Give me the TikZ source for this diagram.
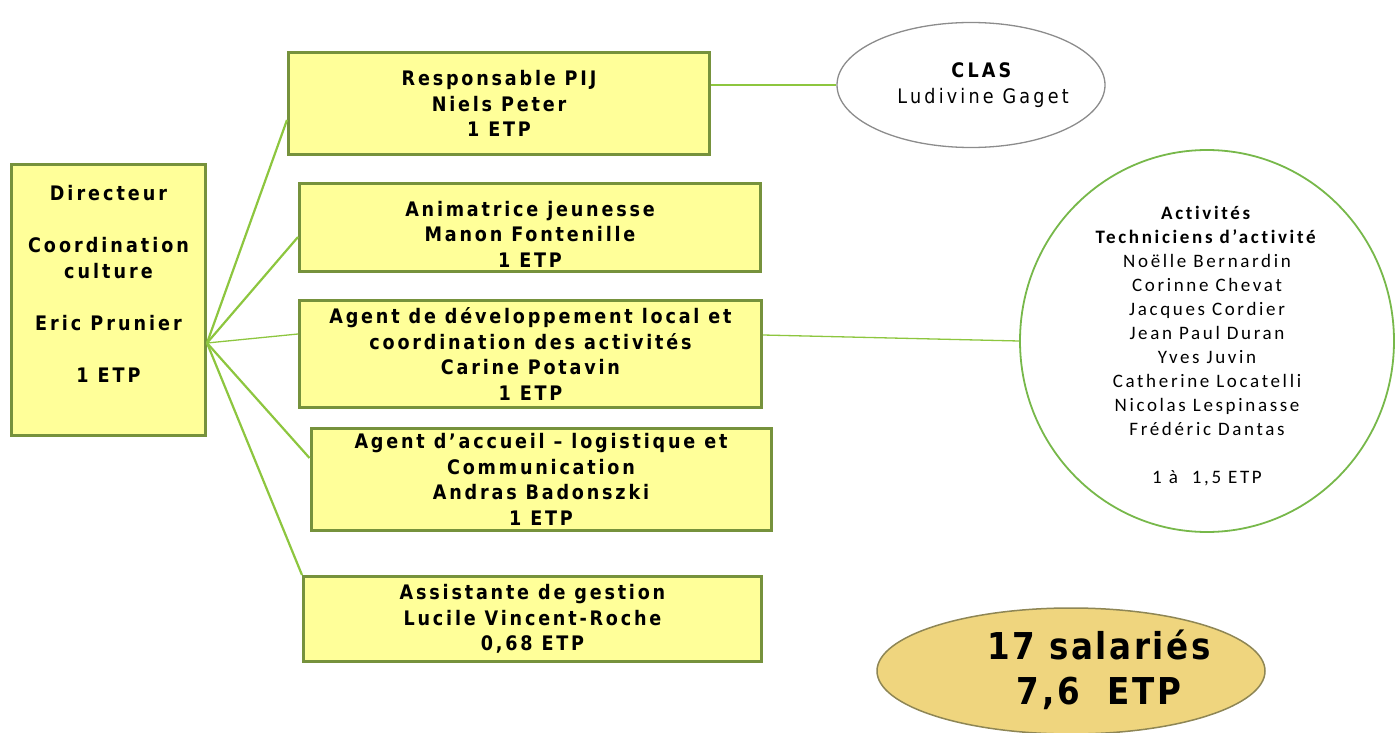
\documentclass[tikz,border=0pt]{standalone}
\usepackage{fontspec}
\setmainfont{DejaVu Sans}
\newfontfamily\boxfont{DejaVu Sans}[FakeStretch=0.88,LetterSpace=14]
\newfontfamily\dirfont{DejaVu Sans}[FakeStretch=0.88,LetterSpace=15]
\newfontfamily\clasfont{DejaVu Sans}[FakeStretch=0.88,LetterSpace=16]
\newfontfamily\actfont{Carlito}[LetterSpace=14,Ligatures=NoCommon]
\newfontfamily\totfont{DejaVu Sans}[FakeStretch=0.88,LetterSpace=7]
\usetikzlibrary{shapes.geometric}
\definecolor{boxfill}{HTML}{FFFF99}
\definecolor{boxline}{HTML}{76923C}
\definecolor{conn}{HTML}{8DC63F}
\definecolor{actline}{HTML}{77B84A}
\definecolor{clasline}{HTML}{8C8C8C}
\definecolor{totfill}{HTML}{EFD57E}
\definecolor{totline}{HTML}{8E8655}
\begin{document}
\begin{tikzpicture}[x=1pt,y=-1pt,
  rolebox/.style={draw=boxline, fill=boxfill, line width=3pt, inner sep=0pt,
    align=center, font=\boxfont\bfseries\fontsize{20}{25.5}\selectfont},
  dirbox/.style={rolebox, font=\dirfont\bfseries\fontsize{20}{26}\selectfont},
  link/.style={draw=conn, line width=2.2pt},
  thinlink/.style={draw=conn, line width=1.3pt},
  clasell/.style={ellipse, draw=clasline, line width=1.3pt, fill=white, inner sep=0pt},
  actell/.style={ellipse, draw=actline, line width=1.8pt, fill=white, inner sep=0pt},
  totell/.style={ellipse, draw=totline, line width=1.5pt, fill=totfill, inner sep=0pt}
]
\useasboundingbox (0,0) rectangle (1395,733);

\node[dirbox, minimum width=194pt, minimum height=271pt] (dir) at (108.5,300)
  {Directeur\\[26pt]Coordination\\culture\\[26pt]Eric Prunier\\[26pt]1 ETP\\[6pt]\mbox{}};
\node[rolebox, minimum width=421pt, minimum height=102pt] (b1) at (499,103.5)
  {Responsable PIJ\\Niels Peter\\1 ETP};
\node[rolebox, minimum width=461pt, minimum height=88pt] (b2) at (530,227)
  {\rule{0pt}{29pt}Animatrice jeunesse\\Manon Fontenille\\1 ETP};
\node[rolebox, minimum width=462pt, minimum height=107pt] (b3) at (530.5,354)
  {Agent de développement local et\\coordination des activités\\Carine Potavin\\1 ETP};
\node[rolebox, minimum width=460pt, minimum height=102pt] (b4) at (541,479.5)
  {Agent d’accueil – logistique et\\Communication\\Andras Badonszki\\1 ETP};
\node[rolebox, minimum width=458pt, minimum height=85pt] (b5) at (532.5,619)
  {Assistante de gestion\\Lucile Vincent-Roche\\0,68 ETP};

\node[clasell, minimum width=268pt, minimum height=125pt,
  label={[xshift=12pt, align=center, font=\clasfont\fontsize{20}{26}\selectfont]center:\textbf{CLAS}\\Ludivine Gaget}] (clas) at (971,85) {};
\node[actell, minimum width=374pt, minimum height=382pt,
  label={[yshift=-5pt, align=center, font=\actfont\fontsize{19}{24}\selectfont]center:\textbf{Activités}\\\textbf{Techniciens d’activité}\\Noëlle Bernardin\\Corinne Chevat\\Jacques Cordier\\Jean Paul Duran\\Yves Juvin\\Catherine Locatelli\\Nicolas Lespinasse\\Frédéric Dantas\\[24pt]1 à~~1,5 ETP}] (act) at (1207,341) {};
\node[totell, minimum width=388pt, minimum height=126pt,
  label={[xshift=28pt, yshift=1pt, align=center, font=\totfont\bfseries\fontsize{37}{45}\selectfont]center:17 salariés\\7,6~~ETP}] (tot) at (1071,671) {};

\coordinate (hub) at ([yshift=-43pt]dir.east);
\draw[link] (hub) -- ([yshift=-16.5pt]b1.west);
\draw[link] (hub) -- ([yshift=-10pt]b2.west);
\draw[thinlink] (hub) -- ([yshift=20pt]b3.west);
\draw[link] (hub) -- ([yshift=21.5pt]b4.west);
\draw[link] (hub) -- (b5.north west);
\draw[link] ([yshift=18.5pt]b1.east) -- (clas.west);
\draw[thinlink] ([yshift=19pt]b3.east) -- (act.west);
\end{tikzpicture}
\end{document}
